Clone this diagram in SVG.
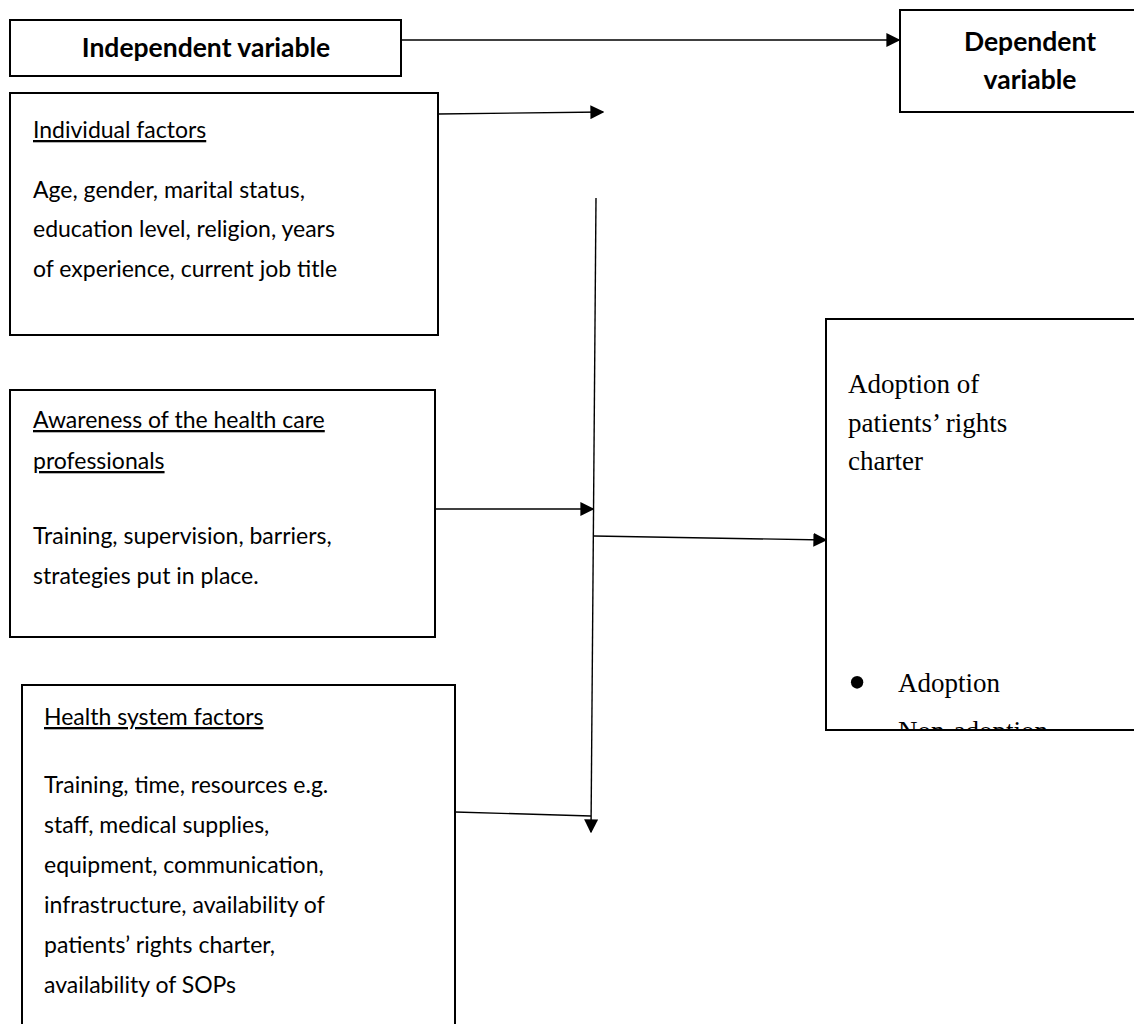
<svg xmlns="http://www.w3.org/2000/svg" width="1134" height="1024" viewBox="0 0 1134 1024">
<style>
.box{fill:#fff;stroke:#000;stroke-width:2}
.t{font-family:Lato,"Liberation Sans",sans-serif;font-size:23px;fill:#000}
.b{font-weight:bold;text-anchor:middle;font-size:26.5px}
.u{text-decoration:underline}
.s{font-family:"Liberation Serif",serif;font-size:27px;fill:#000}
.bul{font-size:52px}
.c{fill:none;stroke:#000;stroke-width:1.4}
</style>
<defs>
<marker id="ah" viewBox="0 0 10 10" refX="9" refY="5" markerWidth="14" markerHeight="14" markerUnits="userSpaceOnUse" orient="auto">
<path d="M0,0 L10,5 L0,10 z" fill="#000"/>
</marker>
<clipPath id="clipA"><rect x="826" y="319" width="320" height="411"/></clipPath>
</defs>
<rect width="1134" height="1024" fill="#fff"/>
<g id="connectors">
<line class="c" x1="401" y1="40" x2="899" y2="40" marker-end="url(#ah)"/>
<line class="c" x1="438" y1="114" x2="603" y2="112" marker-end="url(#ah)"/>
<line class="c" x1="596" y1="198" x2="591" y2="832" marker-end="url(#ah)"/>
<line class="c" x1="435" y1="509" x2="593" y2="509" marker-end="url(#ah)"/>
<line class="c" x1="594" y1="536" x2="826" y2="540" marker-end="url(#ah)"/>
<line class="c" x1="455" y1="812" x2="591" y2="816"/>
</g>
<g id="independent">
<rect class="box" x="10" y="20" width="391" height="56"/>
<text class="t b" x="206" y="57">Independent variable</text>
</g>
<g id="dependent">
<rect class="box" x="900" y="10" width="240" height="102"/>
<text class="t b" x="1030" y="51">Dependent</text>
<text class="t b" x="1030" y="89">variable</text>
</g>
<g id="individual">
<rect class="box" x="10" y="93" width="428" height="242"/>
<text class="t u" x="33" y="138">Individual factors</text>
<text class="t" x="33" y="198">Age, gender, marital status,</text>
<text class="t" x="33" y="237">education level, religion, years</text>
<text class="t" x="33" y="277">of experience, current job title</text>
</g>
<g id="awareness">
<rect class="box" x="10" y="390" width="425" height="247"/>
<text class="t u" x="33" y="428">Awareness of the health care</text>
<text class="t u" x="33" y="469">professionals</text>
<text class="t" x="33" y="544">Training, supervision, barriers,</text>
<text class="t" x="33" y="584">strategies put in place.</text>
</g>
<g id="health">
<rect class="box" x="22" y="685" width="433" height="360"/>
<text class="t u" x="44" y="725">Health system factors</text>
<text class="t" x="44" y="793">Training, time, resources e.g.</text>
<text class="t" x="44" y="833">staff, medical supplies,</text>
<text class="t" x="44" y="873">equipment, communication,</text>
<text class="t" x="44" y="913">infrastructure, availability of</text>
<text class="t" x="44" y="953">patients’ rights charter,</text>
<text class="t" x="44" y="993">availability of SOPs</text>
</g>
<g id="adoption">
<rect class="box" x="826" y="319" width="320" height="411"/>
<g clip-path="url(#clipA)">
<text class="s" x="848" y="393">Adoption of</text>
<text class="s" x="848" y="432">patients’ rights</text>
<text class="s" x="848" y="470">charter</text>
<text class="s bul" x="848" y="700">•</text>
<text class="s" x="898" y="692">Adoption</text>
<text class="s" x="898" y="740">Non-adoption</text>
</g>
</g>
</svg>
